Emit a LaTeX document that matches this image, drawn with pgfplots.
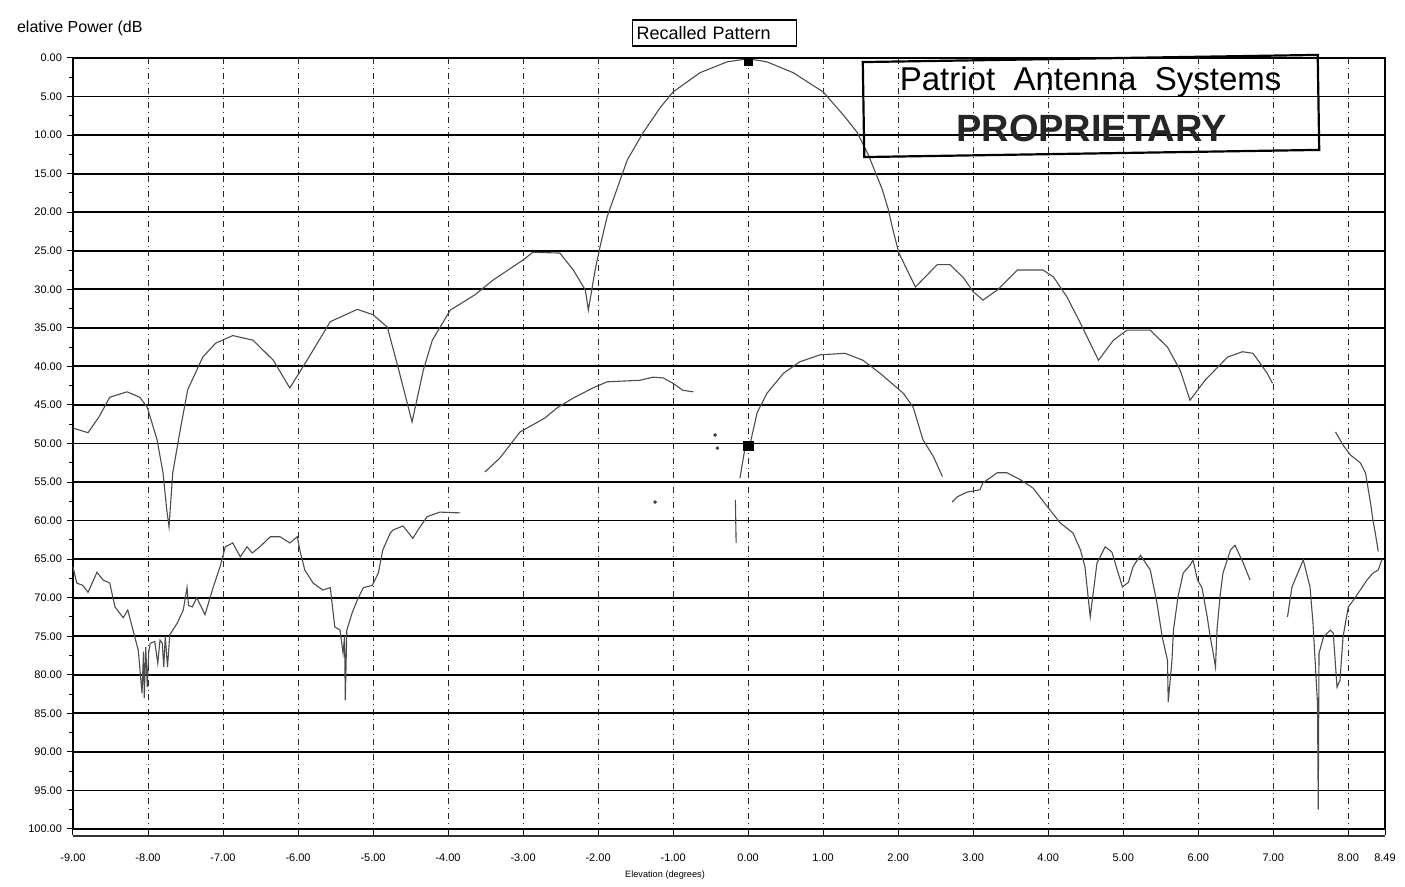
\documentclass[border=0pt]{standalone}
\usepackage{fontspec}
\setmainfont{Liberation Sans}
\usepackage{pgfplots}
\pgfplotsset{compat=1.18}

% co-polar pattern (dB below peak), nan = gap in the trace
\pgfplotstableread{
x y
-9.00 48.0
-8.80 48.6
-8.65 46.5
-8.51 44.0
-8.28 43.3
-8.11 44.0
-8.01 45.3
-7.88 49.5
-7.80 53.8
-7.75 58.6
-7.72 60.8
-7.67 53.8
-7.57 48.2
-7.47 43.0
-7.27 38.8
-7.10 37.0
-6.87 36.0
-6.60 36.6
-6.33 39.2
-6.11 42.8
-5.88 39.2
-5.57 34.2
-5.21 32.6
-5.00 33.3
-4.81 34.9
-4.67 40.0
-4.48 47.2
-4.33 40.5
-4.21 36.6
-3.97 32.7
-3.64 30.7
-3.40 28.8
-3.00 26.2
-2.87 25.2
-2.51 25.3
-2.33 27.5
-2.17 30.1
-2.13 32.7
-2.04 27.5
-1.97 24.3
-1.88 20.6
-1.61 13.2
-1.40 9.7
-1.17 6.4
-1.00 4.4
-0.64 1.9
-0.28 0.5
0.00 0.1
0.25 0.5
0.60 1.9
1.00 4.4
1.27 7.4
1.45 9.6
1.60 12.5
1.79 17.1
1.87 19.7
1.93 22.3
2.01 25.3
2.23 29.7
2.52 26.8
2.69 26.8
2.87 28.5
3.00 30.3
3.13 31.4
3.32 30.1
3.59 27.5
3.93 27.5
4.07 28.4
4.25 31.0
4.43 34.4
4.67 39.2
4.87 36.6
5.05 35.3
5.36 35.3
5.59 37.5
5.76 40.5
5.89 44.4
6.09 41.8
6.39 38.8
6.59 38.1
6.73 38.3
6.92 40.9
6.99 42.2
nan nan
7.83 48.5
7.93 50.2
8.03 51.5
8.16 52.5
8.23 53.8
8.29 57.3
8.33 60.0
8.36 61.6
8.40 64.0
}\copol

% cross-polar pattern
\pgfplotstableread{
x y
-9.00 66.0
-8.95 68.1
-8.87 68.4
-8.80 69.3
-8.68 66.7
-8.60 67.7
-8.51 68.1
-8.44 71.2
-8.33 72.6
-8.27 71.6
-8.20 74.2
-8.13 76.8
-8.08 82.4
-8.06 77.0
-8.05 83.0
-8.03 76.4
-8.01 81.6
-7.99 77.0
-7.97 75.9
-7.91 75.7
-7.87 78.5
-7.84 75.5
-7.81 75.9
-7.79 79.0
-7.77 75.0
-7.74 79.0
-7.71 74.8
-7.61 73.3
-7.53 71.6
-7.48 68.7
-7.46 71.0
-7.41 71.2
-7.35 70.0
-7.24 72.2
-7.13 68.6
-7.04 66.0
-6.97 63.4
-6.87 62.9
-6.77 64.7
-6.68 63.4
-6.61 64.2
-6.51 63.4
-6.37 62.1
-6.24 62.1
-6.11 62.9
-6.01 62.1
-5.97 64.1
-5.91 66.4
-5.80 68.1
-5.67 69.0
-5.57 68.7
-5.51 73.8
-5.44 74.2
-5.40 77.2
-5.38 75.0
-5.37 83.3
-5.35 74.2
-5.28 72.0
-5.21 70.3
-5.13 68.7
-5.01 68.4
-4.93 66.8
-4.87 63.8
-4.77 61.6
-4.73 61.2
-4.60 60.7
-4.47 62.3
-4.40 61.2
-4.28 59.5
-4.11 58.9
-3.84 59.0
nan nan
-3.51 53.7
-3.31 51.9
-3.04 48.5
-2.71 46.7
-2.55 45.4
-2.33 44.1
-2.07 42.8
-1.88 42.0
-1.44 41.8
-1.27 41.4
-1.13 41.5
-1.00 42.2
-0.87 43.1
-0.73 43.3
nan nan
-0.11 54.5
-0.04 50.5
0.03 49.9
0.12 46.0
0.25 43.5
0.47 40.9
0.69 39.4
0.96 38.5
1.29 38.3
1.53 39.2
1.76 40.9
2.07 43.5
2.20 45.3
2.33 49.5
2.47 51.7
2.59 54.3
nan nan
2.72 57.6
2.79 56.9
2.92 56.3
3.09 56.0
3.13 55.1
3.32 53.8
3.45 53.8
3.63 54.7
3.80 55.8
3.99 58.2
4.16 60.3
4.33 61.6
4.43 63.8
4.49 66.0
4.56 72.5
4.65 65.5
4.76 63.4
4.85 64.1
4.92 66.4
4.99 68.6
5.07 68.0
5.13 66.0
5.23 64.5
5.36 66.4
5.45 70.7
5.52 75.1
5.59 78.1
5.60 83.5
5.65 78.1
5.67 74.2
5.73 69.9
5.80 66.8
5.89 65.8
5.93 65.1
5.99 67.7
6.05 68.7
6.12 72.5
6.16 75.1
6.20 77.2
6.23 79.0
6.25 74.2
6.29 69.9
6.33 66.8
6.43 63.8
6.49 63.2
6.60 65.5
6.69 67.7
nan nan
7.19 72.5
7.25 68.6
7.40 65.1
7.49 68.6
7.53 73.3
7.59 83.7
7.60 97.5
7.61 77.2
7.67 75.1
7.76 74.2
7.80 74.6
7.85 81.6
7.89 80.7
7.93 75.1
8.00 71.2
8.07 70.3
8.16 69.0
8.25 67.7
8.33 66.8
8.40 66.4
8.45 65.0
}\xpol

\begin{document}
\begin{tikzpicture}
% 1 px of the scan = 0.5pt, axis box at origin
\path[use as bounding box] (-36.5pt,-29pt) rectangle (666pt,414.5pt);
\begin{axis}[
  at={(0,0)}, anchor=south west,
  scale only axis, width=656pt, height=385.5pt,
  xmin=-9, xmax=8.49, ymin=0, ymax=100, y dir=reverse,
  xtick={-9,-8,-7,-6,-5,-4,-3,-2,-1,0,1,2,3,4,5,6,7,8,8.49},
  xticklabels={-9.00,-8.00,-7.00,-6.00,-5.00,-4.00,-3.00,-2.00,-1.00,0.00,1.00,2.00,3.00,4.00,5.00,6.00,7.00,8.00,8.49},
  ytick={0,5,...,100},
  yticklabels={0.00,5.00,10.00,15.00,20.00,25.00,30.00,35.00,40.00,45.00,50.00,55.00,60.00,65.00,70.00,75.00,80.00,85.00,90.00,95.00,100.00},
  minor y tick num=1,
  tick pos=left, tick align=outside,
  major tick length=3pt, minor tick length=2pt,
  tick style={black, line width=0.5pt},
  ticklabel style={font=\fontsize{5.5}{6}\selectfont},
  yticklabel style={xshift=1pt},
  xticklabel style={yshift=-6pt},
  xmajorgrids, ymajorgrids,
  x grid style={black!85, dash dot, line width=0.5pt},
  y grid style={black, line width=0.9pt},
  axis line style={black, line width=0.7pt},
  unbounded coords=jump,
  clip=false,
]
\addplot[black!70, line width=0.55pt] table {\copol};
\addplot[black!70, line width=0.55pt] table {\xpol};
% stray trace fragments near boresight
\addplot[black!70, line width=0.55pt] coordinates {(-0.17,57.3) (-0.16,62.9)};
\addplot[only marks, mark=*, mark size=0.7pt, black!75] coordinates {(-0.44,48.9) (-0.41,50.6) (-1.24,57.6)};
% markers
\addplot[only marks, mark=square*, mark size=2pt, black] coordinates {(0,0.4)};
\addplot[only marks, mark=square*, mark size=2.4pt, black] coordinates {(0,50.3)};
\end{axis}

% second bottom rule of the plotter frame
\draw[black!80, line width=0.6pt] (0,-3.5pt) -- (656pt,-3.5pt);

% texts around the axis
\node[anchor=west, font=\fontsize{8}{9}\selectfont] at (-31.5pt,400.5pt) {elative Power (dB};
\node[anchor=center, font=\fontsize{4.6}{5}\selectfont] at (296pt,-23pt) {Elevation (degrees)};
\node[draw, line width=0.6pt, anchor=west, text width=78pt, align=left, minimum height=13pt,
      inner sep=2pt, font=\fontsize{9}{10}\selectfont] at (279.5pt,398pt) {Recalled Pattern};

% proprietary stamp
\begin{scope}[shift={(509pt,361.5pt)}, rotate=0.9]
  \draw[line width=1.1pt] (-113.75pt,-23.75pt) rectangle (113.75pt,23.75pt);
  \node[font=\fontsize{16.5}{17}\selectfont] at (0,12pt) {Patriot\ \ Antenna\ \ Systems};
  \node[font=\bfseries\fontsize{19}{20}\selectfont, black!85] at (0,-11pt) {PROPRIETARY};
\end{scope}
\end{tikzpicture}
\end{document}
